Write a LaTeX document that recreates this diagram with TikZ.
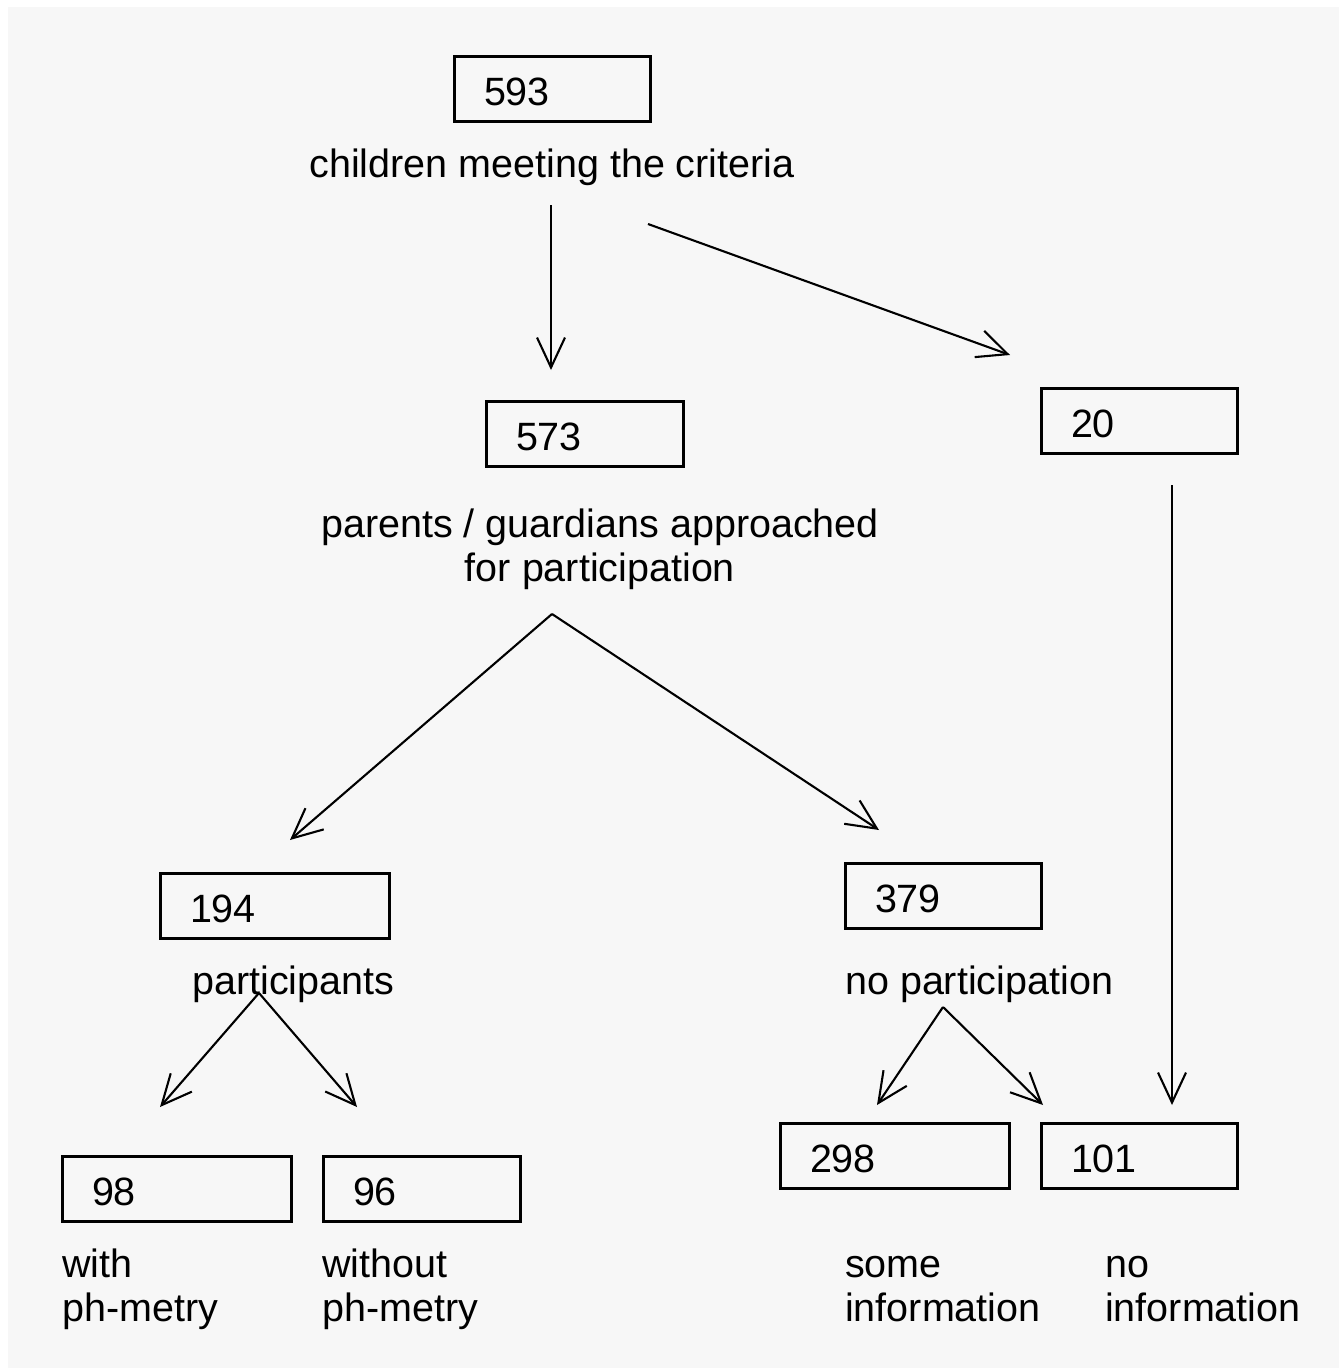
\documentclass[tikz,border=0pt]{standalone}
\usepackage{fontspec}
\setmainfont{Liberation Sans}
\usetikzlibrary{arrows.meta}
\definecolor{bg}{HTML}{F7F7F7}
\begin{document}
\begin{tikzpicture}[x=1pt,y=-1pt,
  every node/.style={font=\fontsize{39.5}{44}\selectfont},
  numbox/.style={draw, line width=3pt, anchor=north west, outer sep=0pt, inner xsep=30pt, inner ysep=0pt, align=left, minimum height=65pt, text height=34pt, text depth=0pt},
  lbl/.style={inner sep=0pt},
  conn/.style={line width=2.1pt, -{Straight Barb[length=30pt,width=28pt,line width=2.1pt]}}
]
\fill[white] (0,0) rectangle (1339,1368);
\fill[bg] (8,7) rectangle (1339,1368);
\useasboundingbox (0,0) rectangle (1339,1368);

% boxes
\node[numbox, text width=136pt] (b593) at (454,56) {593};
\node[numbox, text width=137pt] (b573) at (486,401) {573};
\node[numbox, text width=136pt] (b20) at (1041,388) {20};
\node[numbox, text width=169pt] (b194) at (160,873) {194};
\node[numbox, text width=136pt] (b379) at (845,863) {379};
\node[numbox, text width=169pt] (b98) at (62,1156) {98};
\node[numbox, text width=137pt] (b96) at (323,1156) {96};
\node[numbox, text width=169pt] (b298) at (780,1123) {298};
\node[numbox, text width=136pt] (b101) at (1041,1123) {101};

% labels (for two-line labels the base anchor is the last line's baseline)
\node[lbl, anchor=base] (l593) at (552,177) {children meeting the criteria};
\node[lbl, anchor=base, align=center] (l573) at (600,581) {parents / guardians approached\\for participation};
\node[lbl, anchor=base west] (l194) at (192,994) {participants};
\node[lbl, anchor=base west] (l379) at (845,994) {no participation};
\node[lbl, anchor=base west, align=left] (l98) at (62,1321) {with\\ph-metry};
\node[lbl, anchor=base west, align=left] (l96) at (322,1321) {without\\ph-metry};
\node[lbl, anchor=base west, align=left] (l298) at (845,1321) {some\\information};
\node[lbl, anchor=base west, align=left] (l101) at (1105,1321) {no\\information};

% connector ends
\coordinate (a1s) at (551,205);
\coordinate (a1e) at (551,370);
\coordinate (a2s) at (648,224);
\coordinate (a2e) at (1010,355);
\coordinate (a3s) at (552,614);
\coordinate (a3e) at (290,840);
\coordinate (a4e) at (879,830);
\coordinate (a5s) at (1172,485);
\coordinate (a5e) at (1172,1105);
\coordinate (a6s) at (259,993);
\coordinate (a6e) at (160,1107);
\coordinate (a7e) at (357,1107);
\coordinate (a8s) at (943,1007);
\coordinate (a8e) at (877,1105);
\coordinate (a9e) at (1043,1105);

\draw[conn] (a1s) -- (a1e);
\draw[conn] (a2s) -- (a2e);
\draw[conn] (a3s) -- (a3e);
\draw[conn] (a3s) -- (a4e);
\draw[conn] (a5s) -- (a5e);
\draw[conn] (a6s) -- (a6e);
\draw[conn] (a6s) -- (a7e);
\draw[conn] (a8s) -- (a8e);
\draw[conn] (a8s) -- (a9e);
\end{tikzpicture}
\end{document}
